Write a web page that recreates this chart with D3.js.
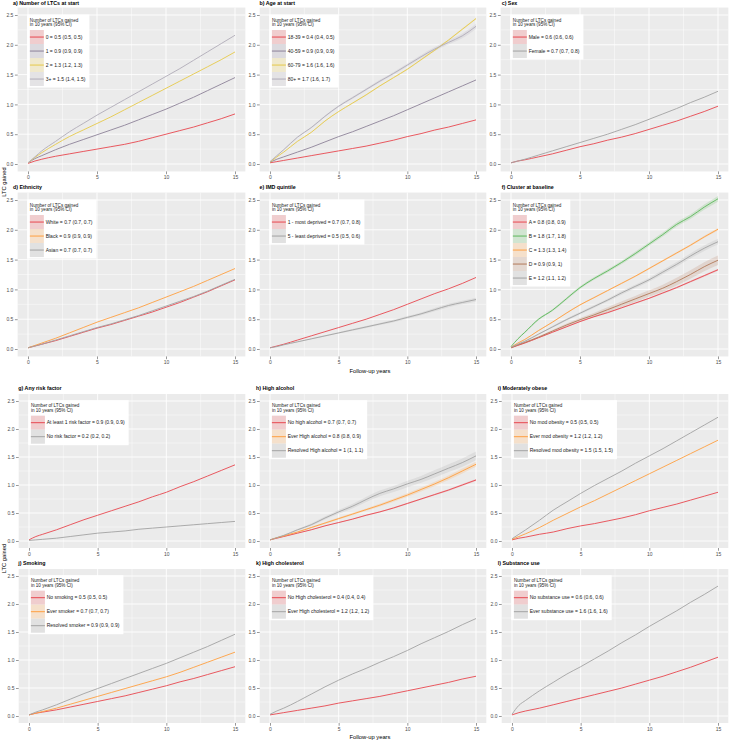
<!DOCTYPE html>
<html><head><meta charset="utf-8">
<script src="https://cdn.jsdelivr.net/npm/d3@7"></script>
<style>
body{margin:0;background:#fff;}
svg{display:block;font-family:"Liberation Sans",Arial,Helvetica,sans-serif;}
</style>
</head><body>
<svg id="chart" width="729" height="741"></svg>
<script>
// ---------------- data ----------------
const years = [0,0.5,1,2,3,4,5,6,7,8,9,10,11,12,13,14,15];
const xTicks = [0,5,10,15];
const xMinor = [2.5,7.5,12.5];
const yTicks = [0,0.5,1,1.5,2,2.5];
const yTickLabels = ["0.0","0.5","1.0","1.5","2.0","2.5"];
const yMinor = [0.25,0.75,1.25,1.75,2.25];
const legendTitle = ["Number of LTCs gained","in 10 years (95% CI)"];
const xAxisTitle = "Follow-up years";
const yAxisTitle = "LTC gained";

const panelTitles = [
  "a) Number of LTCs at start","b) Age at start","c) Sex",
  "d) Ethnicity","e) IMD quintile","f) Cluster at baseline",
  "g) Any risk factor","h) High alcohol","i) Moderately obese",
  "j) Smoking","k) High cholesterol","l) Substance use"
];

const aLabels = ["0 = 0.5 (0.5, 0.5)","1 = 0.9 (0.9, 0.9)","2 = 1.3 (1.2, 1.3)","3+ = 1.5 (1.4, 1.5)"];
const aValues = [
  [0.01,0.05,0.08,0.13,0.17,0.21,0.25,0.29,0.33,0.38,0.44,0.50,0.56,0.62,0.69,0.76,0.84],
  [0.02,0.09,0.14,0.24,0.33,0.41,0.49,0.57,0.65,0.74,0.83,0.92,1.02,1.12,1.23,1.34,1.45],
  [0.02,0.11,0.19,0.33,0.46,0.57,0.68,0.79,0.91,1.03,1.15,1.27,1.39,1.51,1.63,1.75,1.88],
  [0.02,0.12,0.22,0.38,0.54,0.68,0.82,0.95,1.08,1.21,1.34,1.47,1.60,1.74,1.88,2.02,2.16]
];
const bLabels = ["18-39 = 0.4 (0.4, 0.5)","40-59 = 0.9 (0.9, 0.9)","60-79 = 1.6 (1.6, 1.6)","80+ = 1.7 (1.6, 1.7)"];
const bValues = [
  [0.02,0.04,0.06,0.10,0.14,0.18,0.22,0.26,0.30,0.35,0.40,0.46,0.51,0.57,0.62,0.68,0.74],
  [0.03,0.08,0.12,0.20,0.28,0.37,0.46,0.54,0.63,0.72,0.81,0.91,1.01,1.11,1.21,1.31,1.41],
  [0.03,0.12,0.20,0.38,0.53,0.72,0.88,1.02,1.16,1.31,1.45,1.59,1.75,1.91,2.08,2.26,2.44],
  [0.04,0.14,0.24,0.45,0.61,0.80,0.97,1.11,1.25,1.39,1.52,1.66,1.80,1.93,2.04,2.15,2.31]
];
const bCi = [null,null,
  [0,0.002,0.003,0.004,0.005,0.006,0.007,0.008,0.009,0.01,0.011,0.012,0.013,0.014,0.015,0.016,0.017],
  [0,0.004,0.006,0.01,0.012,0.014,0.016,0.018,0.02,0.022,0.024,0.026,0.028,0.031,0.035,0.04,0.045]];
const cLabels = ["Male = 0.6 (0.6, 0.6)","Female = 0.7 (0.7, 0.8)"];
const cValues = [
  [0.02,0.05,0.07,0.12,0.17,0.23,0.29,0.34,0.40,0.45,0.51,0.58,0.65,0.72,0.80,0.88,0.97],
  [0.02,0.05,0.08,0.15,0.22,0.29,0.36,0.43,0.50,0.58,0.66,0.75,0.84,0.93,1.03,1.12,1.22]
];
const dLabels = ["White = 0.7 (0.7, 0.7)","Black = 0.9 (0.9, 0.9)","Asian = 0.7 (0.7, 0.7)"];
const dValues = [
  [0.02,0.05,0.08,0.14,0.21,0.28,0.35,0.41,0.48,0.55,0.62,0.70,0.78,0.87,0.96,1.06,1.16],
  [0.02,0.06,0.10,0.18,0.27,0.36,0.45,0.53,0.61,0.69,0.78,0.87,0.96,1.05,1.15,1.25,1.35],
  [0.02,0.05,0.08,0.15,0.22,0.29,0.36,0.42,0.49,0.56,0.64,0.72,0.80,0.88,0.97,1.07,1.17]
];
const eLabels = ["1 - most deprived = 0.7 (0.7, 0.8)","5 - least deprived = 0.5 (0.5, 0.6)"];
const eValues = [
  [0.02,0.05,0.08,0.15,0.22,0.29,0.36,0.43,0.50,0.58,0.66,0.75,0.84,0.93,1.01,1.10,1.20],
  [0.02,0.04,0.07,0.12,0.17,0.22,0.27,0.32,0.37,0.42,0.47,0.53,0.59,0.66,0.73,0.78,0.83]
];
const eCi = [null,
  [0,0.002,0.004,0.006,0.008,0.01,0.012,0.014,0.016,0.018,0.02,0.022,0.024,0.026,0.028,0.03,0.032]];
const fLabels = ["A = 0.8 (0.8, 0.9)","B = 1.8 (1.7, 1.8)","C = 1.3 (1.3, 1.4)","D = 0.9 (0.9, 1)","E = 1.2 (1.1, 1.2)"];
const fValues = [
  [0.02,0.06,0.10,0.19,0.28,0.37,0.46,0.54,0.61,0.69,0.77,0.85,0.94,1.03,1.13,1.23,1.33],
  [0.04,0.17,0.28,0.50,0.65,0.84,1.03,1.18,1.31,1.45,1.60,1.76,1.92,2.09,2.22,2.38,2.52],
  [0.03,0.10,0.16,0.31,0.45,0.60,0.74,0.86,0.98,1.10,1.22,1.35,1.48,1.61,1.74,1.88,2.01],
  [0.02,0.07,0.11,0.20,0.30,0.40,0.49,0.57,0.66,0.75,0.84,0.93,1.02,1.13,1.25,1.38,1.49],
  [0.03,0.08,0.13,0.25,0.37,0.49,0.60,0.71,0.82,0.94,1.05,1.16,1.29,1.42,1.56,1.69,1.80]
];
const fCi = [
  [0,0.002,0.003,0.004,0.005,0.006,0.007,0.008,0.009,0.01,0.011,0.012,0.013,0.014,0.015,0.016,0.017],
  [0,0.008,0.012,0.016,0.018,0.02,0.022,0.024,0.026,0.028,0.03,0.032,0.034,0.037,0.04,0.044,0.048],
  [0,0.003,0.005,0.007,0.008,0.009,0.01,0.011,0.012,0.013,0.014,0.015,0.016,0.017,0.018,0.019,0.02],
  [0,0.008,0.012,0.016,0.02,0.025,0.03,0.035,0.04,0.045,0.05,0.055,0.06,0.065,0.07,0.075,0.08],
  [0,0.005,0.008,0.012,0.015,0.017,0.02,0.022,0.025,0.028,0.03,0.033,0.036,0.039,0.042,0.045,0.048]
];
const gLabels = ["At least 1 risk factor = 0.9 (0.9, 0.9)","No risk factor = 0.2 (0.2, 0.2)"];
const gValues = [
  [0.02,0.08,0.12,0.20,0.29,0.38,0.46,0.54,0.62,0.70,0.79,0.87,0.97,1.06,1.16,1.26,1.36],
  [0.01,0.02,0.03,0.05,0.08,0.11,0.14,0.16,0.18,0.21,0.23,0.25,0.27,0.29,0.31,0.33,0.35]
];
const hLabels = ["No high alcohol = 0.7 (0.7, 0.7)","Ever High alcohol = 0.8 (0.8, 0.9)","Resolved High alcohol = 1 (1, 1.1)"];
const hValues = [
  [0.02,0.05,0.08,0.14,0.20,0.27,0.33,0.39,0.46,0.52,0.59,0.67,0.75,0.83,0.91,1.00,1.09],
  [0.02,0.06,0.09,0.16,0.24,0.32,0.40,0.48,0.56,0.64,0.73,0.82,0.92,1.02,1.13,1.25,1.37],
  [0.02,0.06,0.10,0.20,0.29,0.41,0.52,0.62,0.74,0.85,0.93,1.02,1.10,1.20,1.30,1.40,1.52]
];
const hCi = [
  [0,0.002,0.003,0.004,0.005,0.006,0.007,0.008,0.009,0.01,0.011,0.012,0.013,0.014,0.015,0.016,0.017],
  [0,0.005,0.008,0.011,0.014,0.016,0.018,0.02,0.022,0.025,0.028,0.031,0.034,0.037,0.04,0.043,0.046],
  [0,0.008,0.012,0.016,0.022,0.028,0.034,0.04,0.045,0.05,0.054,0.058,0.062,0.066,0.07,0.074,0.078]
];
const iLabels = ["No mod obesity = 0.5 (0.5, 0.5)","Ever mod obesity = 1.2 (1.2, 1.2)","Resolved mod obesity = 1.5 (1.5, 1.5)"];
const iValues = [
  [0.02,0.05,0.07,0.12,0.16,0.22,0.27,0.31,0.36,0.41,0.47,0.54,0.60,0.66,0.73,0.80,0.87],
  [0.03,0.08,0.13,0.24,0.37,0.49,0.61,0.72,0.84,0.96,1.08,1.20,1.32,1.44,1.56,1.68,1.80],
  [0.04,0.12,0.20,0.37,0.55,0.70,0.85,0.99,1.12,1.25,1.39,1.52,1.65,1.79,1.93,2.07,2.21]
];
const jLabels = ["No smoking = 0.5 (0.5, 0.5)","Ever smoker = 0.7 (0.7, 0.7)","Resolved smoker = 0.9 (0.9, 0.9)"];
const jValues = [
  [0.02,0.05,0.07,0.11,0.16,0.21,0.26,0.31,0.36,0.42,0.48,0.54,0.61,0.67,0.74,0.81,0.88],
  [0.02,0.05,0.08,0.14,0.21,0.28,0.35,0.42,0.49,0.56,0.63,0.70,0.78,0.87,0.96,1.05,1.14],
  [0.02,0.07,0.11,0.20,0.30,0.40,0.49,0.58,0.67,0.76,0.85,0.94,1.04,1.14,1.24,1.35,1.46]
];
const kLabels = ["No High cholesterol = 0.4 (0.4, 0.4)","Ever High cholesterol = 1.2 (1.2, 1.2)"];
const kValues = [
  [0.02,0.04,0.06,0.10,0.14,0.18,0.23,0.27,0.31,0.35,0.40,0.45,0.50,0.55,0.60,0.66,0.71],
  [0.03,0.09,0.14,0.26,0.39,0.52,0.64,0.75,0.85,0.96,1.06,1.17,1.29,1.40,1.51,1.63,1.74]
];
const lLabels = ["No substance use = 0.6 (0.6, 0.6)","Ever substance use = 1.6 (1.6, 1.6)"];
const lValues = [
  [0.02,0.06,0.09,0.14,0.20,0.26,0.32,0.38,0.44,0.50,0.57,0.64,0.71,0.79,0.87,0.96,1.05],
  [0.03,0.19,0.28,0.45,0.60,0.75,0.88,1.02,1.16,1.31,1.45,1.60,1.74,1.88,2.03,2.17,2.32]
];

// ---------------- styles ----------------
const RED = "#E8474F", GREY = "#A3A3A3", ORANGE = "#FF9F40", GREEN = "#5DB85B",
      BROWN = "#B27A5A", GOLD = "#E6C94A", PURPLEGREY = "#8D8299", LIGHTGREY = "#B0ABB8";
const aColors = [RED, PURPLEGREY, GOLD, LIGHTGREY];
const twoColors = [RED, GREY];
const threeColors = [RED, ORANGE, GREY];
const fColors = [RED, GREEN, ORANGE, BROWN, GREY];

const panels = [
  {labels:aLabels, values:aValues, ci:null, colors:aColors},
  {labels:bLabels, values:bValues, ci:bCi, colors:aColors},
  {labels:cLabels, values:cValues, ci:null, colors:twoColors},
  {labels:dLabels, values:dValues, ci:null, colors:threeColors},
  {labels:eLabels, values:eValues, ci:eCi, colors:twoColors},
  {labels:fLabels, values:fValues, ci:fCi, colors:fColors},
  {labels:gLabels, values:gValues, ci:null, colors:twoColors},
  {labels:hLabels, values:hValues, ci:hCi, colors:threeColors},
  {labels:iLabels, values:iValues, ci:null, colors:threeColors},
  {labels:jLabels, values:jValues, ci:null, colors:threeColors},
  {labels:kLabels, values:kValues, ci:null, colors:twoColors},
  {labels:lLabels, values:lValues, ci:null, colors:twoColors}
];

// ---------------- layout ----------------
const colX0 = [[28,270,511],[29,270,512]];
const colX15 = [[235,476,718],[235,476,718]];
const rowY = [{y0:164,y25:15},{y0:349,y25:200},{y0:541,y25:401},{y0:716,y25:576}];
const titleX = [[13,259.5,501.7],[18.3,256,497.7]];

const svg = d3.select("#chart");

panels.forEach((p, idx) => {
  const row = Math.floor(idx/3), col = idx % 3, half = row < 2 ? 0 : 1;
  const x0 = colX0[half][col], x15 = colX15[half][col];
  const xs = d3.scaleLinear().domain([0,15]).range([x0,x15]);
  const ys = d3.scaleLinear().domain([0,2.5]).range([rowY[row].y0, rowY[row].y25]);
  const left = xs(-0.75), right = xs(15.75), top = ys(2.625), bottom = ys(-0.125);
  const g = svg.append("g");

  g.append("rect").attr("x",left).attr("y",top).attr("width",right-left).attr("height",bottom-top).attr("fill","#EBEBEB");
  xMinor.forEach(v=>g.append("line").attr("x1",xs(v)).attr("x2",xs(v)).attr("y1",top).attr("y2",bottom).attr("stroke","#fff").attr("stroke-width",0.45));
  yMinor.forEach(v=>g.append("line").attr("x1",left).attr("x2",right).attr("y1",ys(v)).attr("y2",ys(v)).attr("stroke","#fff").attr("stroke-width",0.45));
  xTicks.forEach(v=>g.append("line").attr("x1",xs(v)).attr("x2",xs(v)).attr("y1",top).attr("y2",bottom).attr("stroke","#fff").attr("stroke-width",0.9));
  yTicks.forEach(v=>g.append("line").attr("x1",left).attr("x2",right).attr("y1",ys(v)).attr("y2",ys(v)).attr("stroke","#fff").attr("stroke-width",0.9));

  const xAxis = d3.axisBottom(xs).tickValues(xTicks).tickSize(2.75).tickPadding(1.5).tickFormat(d3.format("d"));
  const ax = g.append("g").attr("transform",`translate(0,${bottom})`).call(xAxis);
  const yAxis = d3.axisLeft(ys).tickValues(yTicks).tickSize(2.75).tickPadding(1.5).tickFormat((d,i)=>yTickLabels[i]);
  const ay = g.append("g").attr("transform",`translate(${left},0)`).call(yAxis);
  [ax,ay].forEach(a=>{
    a.select(".domain").remove();
    a.selectAll(".tick line").attr("stroke","#333").attr("stroke-width",0.5);
    a.selectAll(".tick text").attr("fill","#4D4D4D").attr("font-size","5px").attr("font-family","Liberation Sans, Arial, sans-serif");
  });

  const line = d3.line().x((d,i)=>xs(years[i])).y(d=>ys(d)).curve(d3.curveMonotoneX);
  p.values.forEach((vals, s) => {
    const ci = p.ci ? p.ci[s] : null;
    if (ci) {
      const area = d3.area().x((d,i)=>xs(years[i])).y0((d,i)=>ys(d - ci[i])).y1((d,i)=>ys(d + ci[i])).curve(d3.curveMonotoneX);
      g.append("path").datum(vals).attr("d",area).attr("fill",p.colors[s]).attr("fill-opacity",0.2);
    }
  });
  p.values.forEach((vals, s) => {
    g.append("path").datum(vals).attr("d",line).attr("fill","none").attr("stroke",p.colors[s]).attr("stroke-width",0.9);
  });

  g.append("text").attr("x",titleX[half][col]).attr("y",Math.max(top-4,5.2)).attr("font-size","5.3px").attr("font-weight","bold").attr("fill","#000").text(panelTitles[idx]);

  const lx = left + 9.5, ly = top + (half===0 ? 7 : 6.2);
  const lg = g.append("g").attr("transform",`translate(${lx},${ly})`);
  const box = lg.append("rect").attr("fill","#fff");
  const pad = 2.7, keyTop = 15.5, keyH = 14, keyW = 14;
  let maxW = 0;
  legendTitle.forEach((t,i)=>{
    const tx = lg.append("text").attr("x",pad).attr("y",pad+4.4+i*4.8).attr("font-size","4.6px").attr("fill","#1A1A1A").text(t);
    maxW = Math.max(maxW, tx.node().getComputedTextLength());
  });
  p.labels.forEach((lab,s)=>{
    const ky = keyTop + s*keyH;
    lg.append("rect").attr("x",pad).attr("y",ky).attr("width",keyW).attr("height",keyH).attr("fill","#F2F2F2");
    lg.append("rect").attr("x",pad).attr("y",ky).attr("width",keyW).attr("height",keyH).attr("fill",p.colors[s]).attr("fill-opacity",0.22);
    lg.append("line").attr("x1",pad).attr("x2",pad+keyW).attr("y1",ky+keyH/2).attr("y2",ky+keyH/2).attr("stroke",p.colors[s]).attr("stroke-width",1);
    const tx = lg.append("text").attr("x",pad+keyW+1.8).attr("y",ky+keyH/2+1.8).attr("font-size","5px").attr("fill","#1A1A1A").text(lab);
    maxW = Math.max(maxW, keyW+1.8+tx.node().getComputedTextLength());
  });
  box.attr("x",0).attr("y",0).attr("width",maxW+pad+4).attr("height",keyTop+p.labels.length*keyH+1.5);
});

[{x:370,y:372.5},{x:370,y:739}].forEach(t=>{
  svg.append("text").attr("x",t.x).attr("y",t.y).attr("text-anchor","middle").attr("font-size","5.8px").attr("fill","#000").text(xAxisTitle);
});
[182,558.5].forEach(cy=>{
  svg.append("text").attr("transform",`translate(6.3,${cy}) rotate(-90)`).attr("text-anchor","middle").attr("font-size","5.8px").attr("fill","#000").text(yAxisTitle);
});
</script>
</body></html>
